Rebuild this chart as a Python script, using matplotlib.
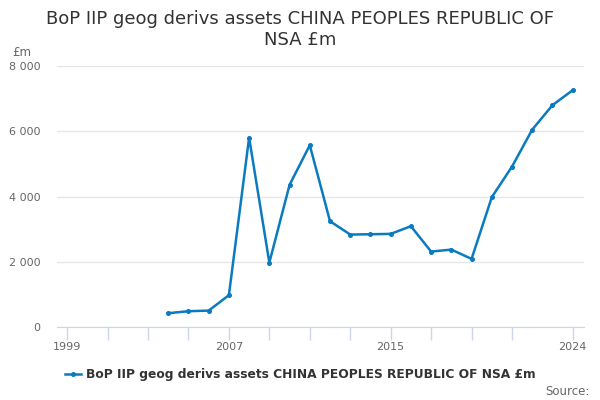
import matplotlib
matplotlib.use("Agg")
import matplotlib.pyplot as plt
from matplotlib.ticker import FuncFormatter

years = list(range(2004, 2025))
values = [429, 490, 508, 980, 5807, 1979, 4358, 5574, 3246, 2837, 2847,
          2858, 3093, 2316, 2377, 2092, 3981, 4919, 6052, 6799, 7259]
tick_years = [1999, 2001, 2003, 2005, 2007, 2009, 2011, 2013, 2015,
              2017, 2019, 2021, 2024]
label_years = [1999, 2007, 2015, 2024]
y_ticks = [0, 2000, 4000, 6000, 8000]

title = "BoP IIP geog derivs assets CHINA PEOPLES REPUBLIC OF\nNSA £m"
series_name = "BoP IIP geog derivs assets CHINA PEOPLES REPUBLIC OF NSA £m"
line_color = "#0b7bc0"

fig = plt.figure(figsize=(6, 4), dpi=100)
ax = fig.add_axes([0.095, 0.182, 0.878, 0.653])

ax.plot(years, values, color=line_color, lw=1.8, marker="o", ms=2.6,
        label=series_name)

ax.set_xlim(1998.5, 2024.55)
ax.set_ylim(0, 8000)
ax.set_yticks(y_ticks)
ax.yaxis.set_major_formatter(FuncFormatter(lambda v, p: f"{int(v):,}".replace(",", " ")))
ax.set_xticks(tick_years)
ax.set_xticklabels([str(y) if y in label_years else "" for y in tick_years])

ax.grid(axis="y", color="#e6e6e6", lw=1)
ax.set_axisbelow(True)
for side in ["top", "right", "left"]:
    ax.spines[side].set_visible(False)
ax.spines["bottom"].set_color("#ccd6eb")
ax.tick_params(axis="x", colors="#ccd6eb", length=9, width=1, labelcolor="#666666",
               labelsize=8, pad=2)
ax.tick_params(axis="y", length=0, labelcolor="#666666", labelsize=8, pad=12)

fig.text(0.5, 0.975, title, ha="center", va="top", fontsize=13, color="#333333",
         linespacing=1.2)
fig.text(0.02, 0.86, "£m", fontsize=8.5, color="#666666")

fig.legend(loc="lower center", bbox_to_anchor=(0.5, 0.02), frameon=False,
           prop={"weight": "bold", "size": 8.8}, labelcolor="#333333",
           handlelength=1.3, handletextpad=0.4)
fig.text(0.982, 0.005, "Source:", ha="right", va="bottom", fontsize=8.5,
         color="#666666")

fig.savefig("out.png", dpi=100)
